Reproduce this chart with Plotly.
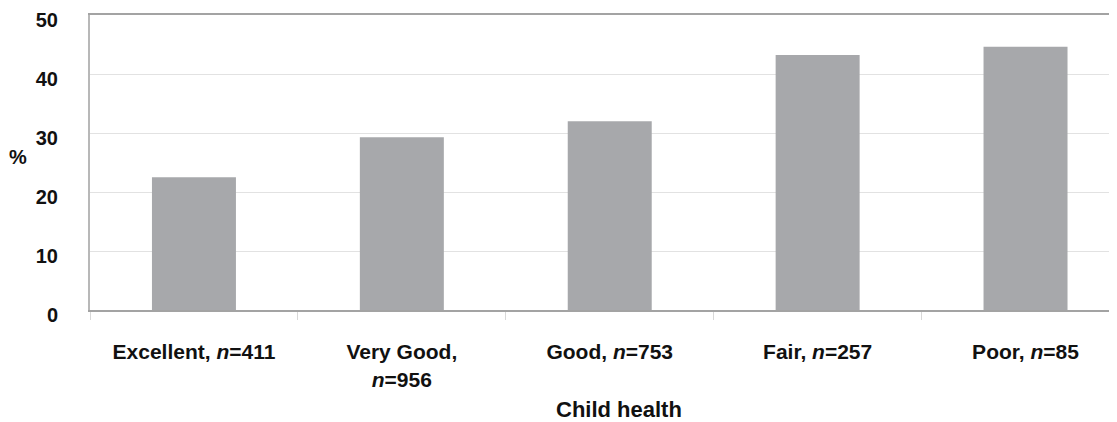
import plotly.graph_objects as go

categories = ["Excellent, <i>n</i>=411", "Very Good,<br><i>n</i>=956", "Good, <i>n</i>=753",
              "Fair, <i>n</i>=257", "Poor, <i>n</i>=85"]
values = [22.5, 29.3, 32.0, 43.2, 44.6]
y_ticks = [0, 10, 20, 30, 40, 50]

FONT = "Liberation Sans, Arial, Helvetica, sans-serif"

fig = go.Figure(go.Bar(
    x=categories, y=values, marker=dict(color="#a7a8ab", line=dict(width=0)),
    width=0.404,
))

# page body has an 8px default margin, so the figure is offset by 8px
fig.update_layout(
    width=1109, height=414,
    margin=dict(l=82, r=0, t=7, b=112),
    plot_bgcolor="white", paper_bgcolor="white",
    showlegend=False,
    font=dict(family=FONT, color="#111111"),
    bargap=0.6,
)
fig.update_xaxes(
    type="category", range=[-0.5, 4.44], automargin=False,
    showline=True, linecolor="#a3a3a3", linewidth=2, mirror=True,
    ticks="outside", tickson="boundaries", ticklen=8, tickcolor="#d8d8d8", tickwidth=1,
    tickfont=dict(family=FONT, size=21, weight="bold", color="#111111"),
    ticklabelstandoff=22,
    showgrid=False,
)
fig.update_yaxes(
    range=[0, 50], tickvals=y_ticks, automargin=False,
    showline=True, linecolor="#b8b8b8", linewidth=2,
    showgrid=True, gridcolor="#e2e2e2", gridwidth=1,
    ticks="", tickfont=dict(family=FONT, size=20, weight="bold", color="#111111"),
    ticklabelstandoff=26, ticklabeloverflow="allow", ticklabelshift=5,
    zeroline=False,
)
fig.add_annotation(text="%", xref="paper", yref="paper", x=-0.07, y=0.52,
                   xanchor="center", yanchor="middle", showarrow=False,
                   font=dict(family=FONT, size=20, weight="bold", color="#111111"))
fig.add_annotation(text="Child health", xref="paper", yref="paper", x=0.515, y=-0.338,
                   xanchor="center", yanchor="middle", showarrow=False,
                   font=dict(family=FONT, size=22, weight="bold", color="#111111"))

fig.write_html("out.html")
